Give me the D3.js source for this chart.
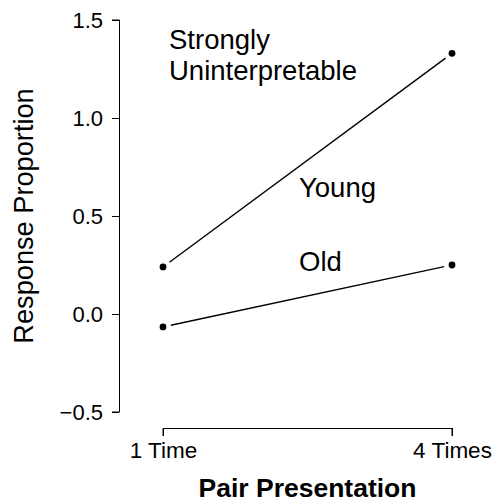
<!DOCTYPE html>
<html>
<head>
<meta charset="utf-8">
<script src="https://cdn.jsdelivr.net/npm/d3@7"></script>
<style>
  body { margin: 0; background: #fff; }
  text { font-family: "Liberation Sans", Arial, sans-serif; fill: #000; }
</style>
</head>
<body>
<svg id="chart" width="494" height="503"></svg>
<script>
// data
const presentations = ["1 Time", "4 Times"];
const youngValues = [0.24, 1.33];
const oldValues = [-0.066, 0.25];
const yTicks = [-0.5, 0, 0.5, 1.0, 1.5];

const svg = d3.select("#chart");

const x = d3.scalePoint().domain(presentations).range([163, 452]);
const y = d3.scaleLinear().domain([-0.5, 1.5]).range([412, 20]);

// y axis
const yAxis = svg.append("g")
  .attr("transform", "translate(119,0)")
  .call(d3.axisLeft(y).tickValues(yTicks).tickSize(7).tickPadding(9)
    .tickFormat(d => d3.format(".1f")(d).replace("-", "\u2212")));
yAxis.select(".domain").attr("d", `M-7,${y(-0.5)}H0.5V${y(1.5)}H-7`);
yAxis.selectAll("text").attr("font-size", 22).attr("font-family", "Liberation Sans, Arial, sans-serif");

// x axis
const xAxis = svg.append("g")
  .attr("transform", "translate(0,428)")
  .call(d3.axisBottom(x).tickSize(8).tickPadding(6));
xAxis.select(".domain").attr("d", `M${x("1 Time")},8V0.5H${x("4 Times")}V8`);
xAxis.selectAll("text").attr("font-size", 22.5).attr("font-family", "Liberation Sans, Arial, sans-serif");

// lines with gaps around the points (R type = "b")
const gap = 8;
function drawSeries(values) {
  const pts = presentations.map((p, i) => [x(p), y(values[i])]);
  for (let i = 0; i < pts.length - 1; i++) {
    const [x0, y0] = pts[i], [x1, y1] = pts[i + 1];
    const len = Math.hypot(x1 - x0, y1 - y0);
    const ux = (x1 - x0) / len, uy = (y1 - y0) / len;
    svg.append("line")
      .attr("x1", x0 + ux * gap).attr("y1", y0 + uy * gap)
      .attr("x2", x1 - ux * gap).attr("y2", y1 - uy * gap)
      .attr("stroke", "#000").attr("stroke-width", 1.4);
  }
  svg.selectAll(null).data(pts).enter().append("circle")
    .attr("cx", d => d[0]).attr("cy", d => d[1]).attr("r", 3.4).attr("fill", "#000");
}
drawSeries(youngValues);
drawSeries(oldValues);

// annotations
svg.append("text").attr("x", 169).attr("y", 49).attr("font-size", 27.5).text("Strongly");
svg.append("text").attr("x", 169).attr("y", 80).attr("font-size", 27.5).text("Uninterpretable");
svg.append("text").attr("x", 299).attr("y", 197).attr("font-size", 27.5).text("Young");
svg.append("text").attr("x", 299).attr("y", 271).attr("font-size", 27.5).text("Old");

// axis titles
svg.append("text")
  .attr("transform", `translate(33,${y(0.5)}) rotate(-90)`)
  .attr("text-anchor", "middle").attr("font-size", 27.2)
  .text("Response Proportion");
svg.append("text")
  .attr("x", (x("1 Time") + x("4 Times")) / 2).attr("y", 497)
  .attr("text-anchor", "middle").attr("font-size", 26.5).attr("font-weight", "bold")
  .text("Pair Presentation");
</script>
</body>
</html>
